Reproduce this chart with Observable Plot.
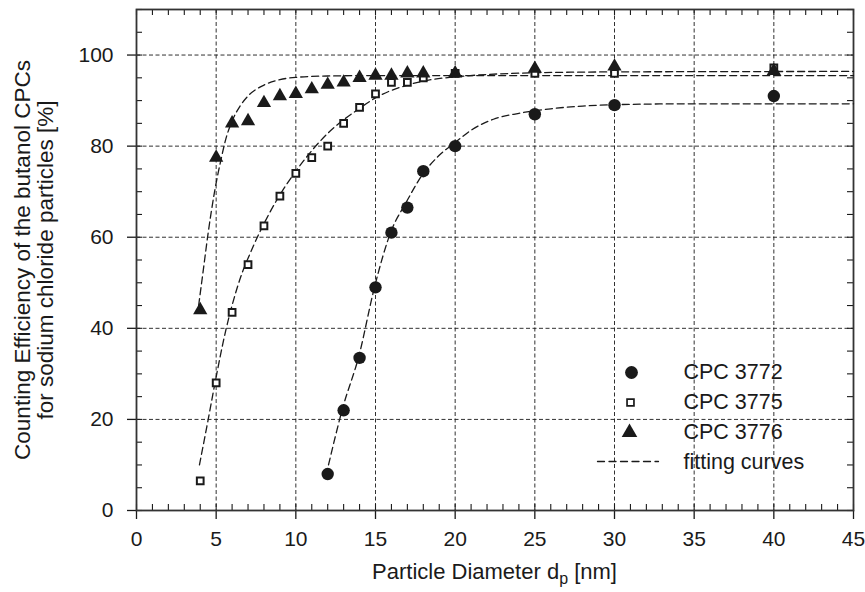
<!DOCTYPE html>
<html><head><meta charset="utf-8">
<script src="https://cdn.jsdelivr.net/npm/d3@7"></script>
<script src="https://cdn.jsdelivr.net/npm/@observablehq/plot@0.6"></script>
<style>body{margin:0;background:#fff;} svg{display:block;}</style>
</head><body><div id="chart"></div>
<script>
// Measured points
const dp3772 = [12, 13, 14, 15, 16, 17, 18, 20, 25, 30, 40];
const eff3772 = [8, 22, 33.5, 49, 61, 66.5, 74.5, 80, 87, 89, 91];
const dp3775 = [4, 5, 6, 7, 8, 9, 10, 11, 12, 13, 14, 15, 16, 17, 18, 20, 25, 30, 40];
const eff3775 = [6.5, 28, 43.5, 54, 62.5, 69, 74, 77.5, 80, 85, 88.5, 91.5, 94, 94, 95, 96, 96, 96, 97.2];
const dp3776 = [4, 5, 6, 7, 8, 9, 10, 11, 12, 13, 14, 15, 16, 17, 18, 20, 25, 30, 40];
const eff3776 = [44, 77.5, 85, 85.5, 89.5, 91, 91.5, 92.5, 93.5, 94, 95, 95.5, 95.5, 96, 96, 96, 97, 97.5, 96.5];

// Fitting curves
const fitX3772 = [12.05, 12.9, 14, 14.9, 16, 16.9, 18, 19, 20, 21, 22.4, 24, 26, 28, 30, 35, 45];
const fitY3772 = [10, 22, 34.5, 48.5, 61.5, 67.5, 74, 78, 80.8, 83.5, 85.9, 87.2, 88.2, 88.8, 89.1, 89.3, 89.3];
const fitX3775 = [3.95, 4.5, 4.9, 5.6, 6.4, 7.3, 8.3, 9.4, 10, 11, 12, 14, 15, 17, 18.5, 20, 25, 30, 45];
const fitY3775 = [10, 20, 27.5, 39.5, 49.8, 57.8, 65, 71.5, 74.5, 79, 82.8, 88.3, 90.6, 93.4, 94.6, 95.2, 96.1, 96.3, 96.4];
const fitX3776 = [3.9, 4.2, 4.5, 4.9, 5.3, 5.6, 6, 6.5, 7, 8, 9, 10, 12, 15, 20, 30, 45];
const fitY3776 = [45, 53, 61, 70, 77, 81.5, 85.5, 88.8, 91, 93.4, 94.6, 95.1, 95.4, 95.5, 95.5, 95.5, 95.5];

// Axis ticks
const xMajor = [0, 5, 10, 15, 20, 25, 30, 35, 40, 45];
const xMinor = d3.range(0, 46, 1);
const xGrid = [5, 10, 15, 20, 25, 30, 35, 40];
const yMajor = [0, 20, 40, 60, 80, 100];
const yMinor = d3.range(0, 111, 5);
const yGrid = [20, 40, 60, 80, 100];

const legendLabels = ["CPC 3772", "CPC 3775", "CPC 3776", "fitting curves"];
const yTitle = ["Counting Efficiency of the butanol CPCs", "for sodium chloride particles [%]"];

const W = 865, H = 592, mL = 136, mR = 12, mT = 9, mB = 82;
const innerW = W - mL - mR, innerH = H - mT - mB;
const ink = "#1a1a1a";
const font = "'Liberation Sans', Arial, Helvetica, sans-serif";

const pts = (xs, ys) => xs.map((x, i) => ({x, y: ys[i]}));
const lineShape = {draw(context, l) { context.moveTo(0, 0); context.lineTo(0, -l); }};

const plot = Plot.plot({
  width: W, height: H,
  marginLeft: mL, marginRight: mR, marginTop: mT, marginBottom: mB,
  style: {fontFamily: font, background: "#fff", color: ink},
  x: {domain: [0, 45]},
  y: {domain: [0, 110]},
  marks: [
    Plot.ruleX(xGrid, {x: d => d, stroke: ink, strokeWidth: 0.9, strokeDasharray: "4,2.5"}),
    Plot.ruleY(yGrid, {y: d => d, stroke: ink, strokeWidth: 0.9, strokeDasharray: "4,2.5"}),
    // minor ticks inside on all sides
    Plot.ruleX(xMinor, {x: d => d, insetTop: innerH - 6, stroke: ink, strokeWidth: 1.1}),
    Plot.ruleX(xMinor, {x: d => d, insetBottom: innerH - 6, stroke: ink, strokeWidth: 1.1}),
    Plot.ruleY(yMinor, {y: d => d, insetRight: innerW - 6, stroke: ink, strokeWidth: 1.1}),
    Plot.ruleY(yMinor, {y: d => d, insetLeft: innerW - 6, stroke: ink, strokeWidth: 1.1}),
    // major ticks outward
    Plot.ruleX(xMajor, {x: d => d, insetTop: innerH, insetBottom: -9, stroke: ink, strokeWidth: 1.3}),
    Plot.ruleY(yMajor, {y: d => d, insetRight: innerW, insetLeft: -9, stroke: ink, strokeWidth: 1.3}),
    Plot.axisX(xMajor, {tickSize: 0, tickPadding: 21, fontSize: 21, label: null, fill: ink}),
    Plot.axisY(yMajor, {tickSize: 0, tickPadding: 23, fontSize: 21, label: null, fill: ink}),
    Plot.frame({stroke: "#333", strokeWidth: 1.8}),
    // y-axis title (two lines)
    ...yTitle.map((s, i) => Plot.text([s], {frameAnchor: "left", dx: i === 0 ? -114 : -91, rotate: -90, textAnchor: "middle", lineAnchor: "middle", fontSize: 22.5, fill: ink, text: d => d})),
    // fitting curves
    Plot.line(pts(fitX3772, fitY3772), {x: "x", y: "y", curve: "monotone-x", stroke: ink, strokeWidth: 1.3, strokeDasharray: "7,4"}),
    Plot.line(pts(fitX3775, fitY3775), {x: "x", y: "y", curve: "monotone-x", stroke: ink, strokeWidth: 1.3, strokeDasharray: "7,4"}),
    Plot.line(pts(fitX3776, fitY3776), {x: "x", y: "y", curve: "monotone-x", stroke: ink, strokeWidth: 1.3, strokeDasharray: "7,4"}),
    // data points
    Plot.dot(pts(dp3775, eff3775), {x: "x", y: "y", symbol: "square", r: 3.8, fill: "#fff", stroke: ink, strokeWidth: 2}),
    Plot.dot(pts(dp3776, eff3776), {x: "x", y: "y", symbol: "triangle", r: 5.3, fill: ink, stroke: "none"}),
    Plot.dot(pts(dp3772, eff3772), {x: "x", y: "y", symbol: "circle", r: 6.2, fill: ink, stroke: "none"}),
    // legend
    Plot.dot([legendLabels[0]], {frameAnchor: "top-left", dx: 495, dy: 363, symbol: "circle", r: 6.4, fill: ink, stroke: "none"}),
    Plot.dot([legendLabels[1]], {frameAnchor: "top-left", dx: 494, dy: 393, symbol: "square", r: 3.9, fill: "#fff", stroke: ink, strokeWidth: 1.7}),
    Plot.dot([legendLabels[2]], {frameAnchor: "top-left", dx: 493, dy: 423, symbol: "triangle", r: 5.8, fill: ink, stroke: "none"}),
    Plot.vector([legendLabels[3]], {frameAnchor: "top-left", dx: 597 - mL, dy: 452, length: 61, rotate: 90, anchor: "start", shape: lineShape, stroke: ink, strokeWidth: 1.3, strokeDasharray: "7,4.5"}),
    ...legendLabels.map((lab, i) => Plot.text([lab], {frameAnchor: "top-left", dx: 547, dy: 363 + 30 * i, text: d => d, textAnchor: "start", lineAnchor: "middle", fontSize: 21.5, fill: ink}))
  ]
});

document.getElementById("chart").appendChild(plot);

// x-axis title with subscript
const svg = d3.select(plot);
const t = svg.append("text")
  .attr("x", mL + innerW / 2)
  .attr("y", 579)
  .attr("text-anchor", "middle")
  .attr("font-size", 22)
  .attr("font-family", font)
  .attr("fill", ink);
t.append("tspan").text("Particle Diameter d");
t.append("tspan").attr("font-size", 16).attr("dy", 5).text("p");
t.append("tspan").attr("dy", -5).text(" [nm]");
</script>
</body></html>
